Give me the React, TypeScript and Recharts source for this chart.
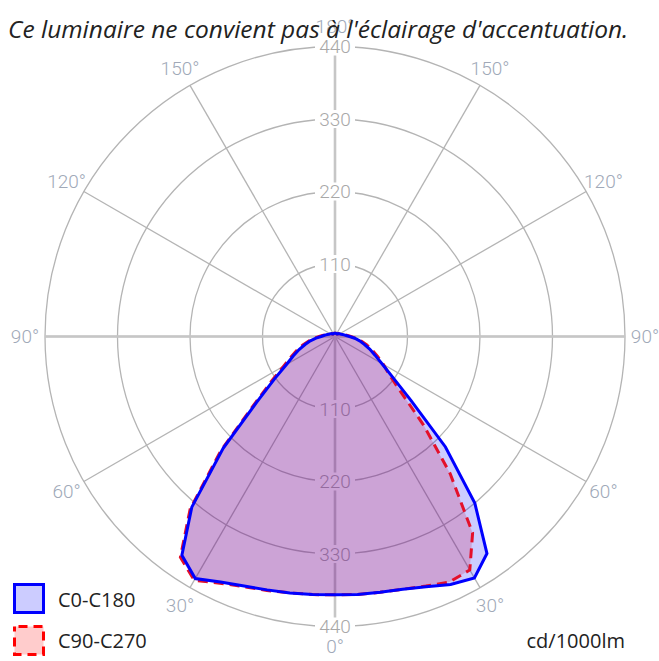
import React from "react";
import {
  RadarChart,
  Radar,
  PolarGrid,
  PolarAngleAxis,
  PolarRadiusAxis,
} from "recharts";

// gamma angles 0..180 step 5
const gammaAngles = Array.from({ length: 37 }, (_, i) => i * 5);

// cd/1000lm
const c0Values = [392, 393, 395, 398, 403, 411, 424, 405, 338, 240, 155, 112, 85, 70, 58, 47, 38, 29, 21, 17, 14, 12, 10, 9, 8, 7, 6, 6, 5, 5, 5, 5, 5, 5, 5, 5, 5];
const c180Values = [392, 393, 394, 397, 404, 415, 423, 402, 330, 237, 150, 106, 82, 67, 56, 46, 38, 30, 22, 17, 14, 12, 10, 9, 8, 7, 6, 6, 5, 5, 5, 5, 5, 5, 5, 5, 5];
const c90Values = [392, 393, 395, 399, 404, 413, 427, 409, 342, 245, 160, 117, 90, 74, 62, 51, 41, 32, 24, 19, 15, 13, 11, 9, 8, 7, 6, 6, 5, 5, 5, 5, 5, 5, 5, 5, 5];
const c270Values = [392, 393, 394, 397, 403, 411, 409, 364, 272, 190, 130, 100, 85, 71, 60, 50, 41, 32, 24, 19, 15, 13, 11, 9, 8, 7, 6, 6, 5, 5, 5, 5, 5, 5, 5, 5, 5];

const radiusTicks = [0, 110, 220, 330, 440];
const gridStep = 30;

const CX = 335;
const CY = 336.5;
const R = 290;
const START = -90;

// theta runs clockwise from the bottom: left half is C0 / C90, right half C180 / C270
const chartData = [
  ...gammaAngles.map((g, i) => ({ theta: g, c0c180: c0Values[i], c90c270: c90Values[i] })),
  ...gammaAngles
    .slice(1, -1)
    .reverse()
    .map((g) => ({
      theta: 360 - g,
      c0c180: c180Values[g / 5],
      c90c270: c270Values[g / 5],
    })),
];

const spokeAngles = Array.from({ length: 360 / gridStep }, (_, i) => START - i * gridStep);
const mainAngles = [START, START - 90, START - 180, START - 270];

const labelFont = "Roboto, 'Open Sans', sans-serif";

function AngleTick(props: any) {
  const { x, y, payload } = props;
  const theta = Number(payload.value);
  if (theta % gridStep !== 0) return null;
  const label = theta <= 180 ? theta : 360 - theta;
  return (
    <text
      x={x}
      y={y}
      dy="0.36em"
      textAnchor="middle"
      fill="#a0a9b8"
      fontSize={19}
      fontWeight={300}
      fontFamily={labelFont}
    >
      {label}°
    </text>
  );
}

function RadiusTick(props: any) {
  const { x, y, payload } = props;
  if (!payload.value) return null;
  const ys = [y, 2 * CY - y];
  return (
    <g>
      {ys.map((yy) => (
        <g key={yy}>
          <rect x={x - 20} y={yy - 9} width={40} height={18} fill="#fff" />
          <text
            x={x}
            y={yy}
            dy="0.36em"
            textAnchor="middle"
            fill="#a8a8a8"
            fontSize={19}
            fontWeight={300}
            fontFamily={labelFont}
          >
            {payload.value}
          </text>
        </g>
      ))}
    </g>
  );
}

export default function App() {
  return (
    <div
      style={{
        position: "absolute",
        left: 0,
        top: 0,
        width: 659,
        height: 661,
        background: "#fff",
        overflow: "hidden",
      }}
    >
      <RadarChart
        width={659}
        height={661}
        data={chartData}
        cx={CX}
        cy={CY}
        outerRadius={R}
        startAngle={START}
        endAngle={START - 360}
        margin={{ top: 0, right: 0, bottom: 0, left: 0 }}
      >
        <PolarGrid
          gridType="circle"
          polarAngles={spokeAngles}
          stroke="#b4b4b4"
          strokeWidth={1.3}
        />
        <PolarGrid
          gridType="circle"
          polarAngles={mainAngles}
          polarRadius={[]}
          stroke="#c6c6c6"
          strokeWidth={2.6}
        />
        <PolarAngleAxis
          dataKey="theta"
          axisLine={false}
          tickLine={false}
          tickSize={20}
          tick={<AngleTick />}
        />
        <PolarRadiusAxis
          angle={90}
          domain={[0, 440]}
          ticks={radiusTicks as any}
          tickCount={5}
          axisLine={false}
          tick={<RadiusTick />}
          zIndex={50}
        />
        {/* fills first, outlines on top */}
        <Radar
          name="C90-C270"
          dataKey="c90c270"
          stroke="none"
          fill="#ff0000"
          fillOpacity={0.2}
          dot={false}
          isAnimationActive={false}
        />
        <Radar
          name="C0-C180"
          dataKey="c0c180"
          stroke="none"
          fill="#0000ff"
          fillOpacity={0.2}
          dot={false}
          isAnimationActive={false}
        />
        <Radar
          name="C90-C270 line"
          dataKey="c90c270"
          stroke="#e4102a"
          strokeWidth={3}
          strokeDasharray="10 6"
          fill="none"
          dot={false}
          isAnimationActive={false}
        />
        <Radar
          name="C0-C180 line"
          dataKey="c0c180"
          stroke="#0000ff"
          strokeWidth={3}
          fill="none"
          dot={false}
          isAnimationActive={false}
        />
      </RadarChart>

      <div
        style={{
          position: "absolute",
          left: 8,
          top: 13,
          fontFamily: "'Open Sans', sans-serif",
          fontStyle: "italic",
          fontSize: 24.5,
          lineHeight: "32px",
          color: "#222",
          whiteSpace: "nowrap",
        }}
      >
        Ce luminaire ne convient pas à l'éclairage d'accentuation.
      </div>

      <svg
        width={659}
        height={661}
        style={{ position: "absolute", left: 0, top: 0, pointerEvents: "none" }}
      >
        <rect x={14.5} y={584.5} width={29} height={28} fill="#ccccff" stroke="#0000ff" strokeWidth={3} />
        <rect x={14.5} y={626.5} width={29} height={28} fill="#ffcccc" stroke="#ff0000" strokeWidth={3} strokeDasharray="9 6" strokeDashoffset={-4} />
        <text x={58} y={600} dy="0.36em" fontSize={20} fontFamily="'Open Sans', sans-serif" fill="#222">
          C0-C180
        </text>
        <text x={58} y={641} dy="0.36em" fontSize={20} fontFamily="'Open Sans', sans-serif" fill="#222">
          C90-C270
        </text>
        <text x={625} y={641} dy="0.36em" textAnchor="end" fontSize={20} fontFamily="'Open Sans', sans-serif" fill="#222">
          cd/1000lm
        </text>
      </svg>
    </div>
  );
}
